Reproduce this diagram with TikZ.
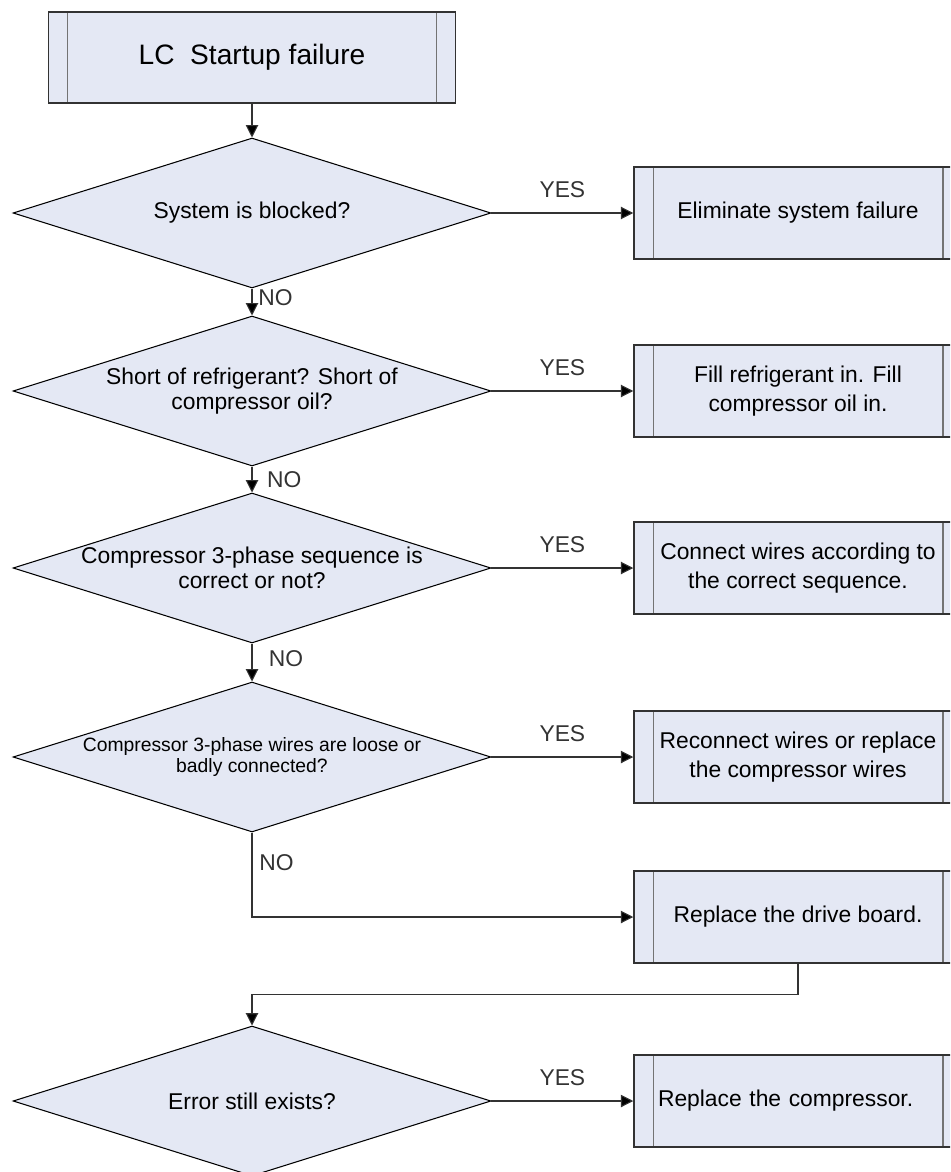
\documentclass[tikz,border=0pt]{standalone}
\usepackage{fontspec}
\setmainfont{Liberation Sans}
\usetikzlibrary{arrows.meta,shapes.geometric}

\definecolor{boxfill}{RGB}{228,232,244}
\definecolor{boxline}{RGB}{50,50,50}

\begin{document}
\begin{tikzpicture}[>={Triangle[length=7pt,width=7pt,fill=black]}, x=0.02cm, y=-0.02cm, line width=0.6pt,
  procbox/.style={draw=boxline, line width=0.9pt, fill=boxfill, inner sep=0pt,
    minimum width=6.56cm, minimum height=1.84cm, align=center,
    font=\fontsize{13}{16.5}\selectfont,
    path picture={\draw[black!55, line width=0.6pt]
      ([xshift=0.38cm]path picture bounding box.north west) -- ([xshift=0.38cm]path picture bounding box.south west)
      ([xshift=-0.38cm]path picture bounding box.north east) -- ([xshift=-0.38cm]path picture bounding box.south east);}},
  startbox/.style={procbox, minimum width=8.14cm, minimum height=1.82cm, font=\fontsize{16}{19}\selectfont},
  decision/.style={draw, diamond, fill=boxfill, inner sep=0pt, minimum width=9.56cm, minimum height=3cm},
  qtext/.style={align=center, font=\fontsize{13}{14}\selectfont},
  qsmall/.style={align=center, font=\fontsize{11}{12}\selectfont},
  tag/.style={font=\fontsize{13}{15}\selectfont},
  link/.style={->, black!80}]
  \useasboundingbox (0,0) rectangle (950,1172);
  \clip (0,0) rectangle (950,1172);

  % Start
  \node[startbox] (start) at (252,57.5) {LC\ \ Startup failure};

  % Questions
  \node[decision, label={[qtext]center:System is blocked?}] (blocked) at (252,213) {};
  \node[decision, label={[qtext]center:Short of refrigerant? Short of\\compressor oil?}] (short) at (252,391) {};
  \node[decision, label={[qtext]center:Compressor 3-phase sequence is\\correct or not?}] (phase) at (252,568) {};
  \node[decision, label={[qsmall]center:Compressor 3-phase wires are loose or\\badly connected?}] (loose) at (252,757) {};
  \node[decision, label={[qtext]center:Error still exists?}] (still) at (252,1101) {};

  % Actions
  \node[procbox] (fixsys) at (798,213) {Eliminate system failure};
  \node[procbox] (fill) at (798,391) {Fill refrigerant in. Fill\\compressor oil in.};
  \node[procbox] (rewire) at (798,568) {Connect wires according to\\the correct sequence.};
  \node[procbox] (recon) at (798,757) {Reconnect wires or replace\\the compressor wires};
  \node[procbox] (board) at (798,917) {Replace the drive board.};
  \node[procbox, align=left, text width=5.6cm] (comp) at (798,1101) {Replace the compressor.};

  % NO path
  \draw[link] (start.south) -- (blocked.north);
  \draw[link] (blocked.south) -- node[tag, right=0pt, pos=0.35] (no1) {NO} (short.north);
  \draw[link] (short.south) -- node[tag, right=5pt] (no2) {NO} (phase.north);
  \draw[link] (phase.south) -- node[tag, right=6pt, pos=0.4] (no3) {NO} (loose.north);
  \draw[link] (loose.south) |- node[tag, right=0.5pt, pos=0.18] (no4) {NO} (board.west);
  \draw[link] (board.south) -- ++(0,31) -| (still.north);

  % YES branches
  \draw[link] (blocked.east) -- node[tag, above=5pt] (yes1) {YES} (fixsys.west);
  \draw[link] (short.east) -- node[tag, above=5pt] (yes2) {YES} (fill.west);
  \draw[link] (phase.east) -- node[tag, above=5pt] (yes3) {YES} (rewire.west);
  \draw[link] (loose.east) -- node[tag, above=5pt] (yes4) {YES} (recon.west);
  \draw[link] (still.east) -- node[tag, above=5pt] (yes5) {YES} (comp.west);
\end{tikzpicture}
\end{document}
